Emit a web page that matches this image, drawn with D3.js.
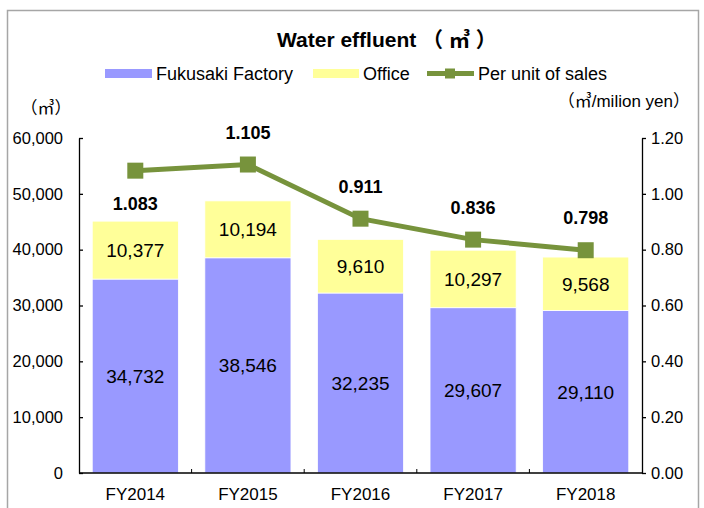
<!DOCTYPE html>
<html>
<head>
<meta charset="utf-8">
<script src="https://cdn.jsdelivr.net/npm/d3@7"></script>
<style>
  body { margin: 0; background: #fff; }
  svg text { font-family: "Liberation Sans", Arial, "Noto Sans CJK JP", sans-serif; }
</style>
</head>
<body>
<svg id="chart" width="704" height="508"></svg>
<script>
const years = ["FY2014", "FY2015", "FY2016", "FY2017", "FY2018"];
const factory = [34732, 38546, 32235, 29607, 29110];
const office = [10377, 10194, 9610, 10297, 9568];
const perUnit = [1.083, 1.105, 0.911, 0.836, 0.798];
const leftTicks = [0, 10000, 20000, 30000, 40000, 50000, 60000];
const rightTicks = [0, 0.2, 0.4, 0.6, 0.8, 1.0, 1.2];

const BLUE = "#9999ff";
const YELLOW = "#ffff99";
const GREEN = "#77933c";

const svg = d3.select("#chart");

// frame
svg.append("rect")
  .attr("x", 7.5).attr("y", 10.5)
  .attr("width", 691).attr("height", 510)
  .attr("fill", "none").attr("stroke", "#a6a6a6").attr("stroke-width", 1.5);

const plotL = 79, plotR = 642, plotT = 138, plotB = 473;

const x = d3.scaleBand().domain(years).range([plotL, plotR])
  .paddingInner(0.235).paddingOuter(0.1175);
const y = d3.scaleLinear().domain([0, 60000]).range([plotB, plotT]);
const y2 = d3.scaleLinear().domain([0, 1.2]).range([plotB, plotT]);

// title
svg.append("text")
  .attr("x", 277).attr("y", 47)
  .attr("font-size", 21).attr("font-weight", "bold")
  .text("Water effluent （ ㎥ ）");

// legend
const lg = svg.append("g").attr("font-size", 18);
lg.append("rect").attr("x", 105).attr("y", 69).attr("width", 47).attr("height", 9).attr("fill", BLUE);
lg.append("text").attr("x", 156).attr("y", 80).text("Fukusaki Factory");
lg.append("rect").attr("x", 313).attr("y", 69).attr("width", 46).attr("height", 9).attr("fill", YELLOW);
lg.append("text").attr("x", 363).attr("y", 80).text("Office");
lg.append("line").attr("x1", 427).attr("x2", 474).attr("y1", 73.5).attr("y2", 73.5)
  .attr("stroke", GREEN).attr("stroke-width", 5);
lg.append("rect").attr("x", 445).attr("y", 68.5).attr("width", 10).attr("height", 10).attr("fill", GREEN);
lg.append("text").attr("x", 478).attr("y", 80).text("Per unit of sales");

// unit labels
svg.append("text").attr("x", 46).attr("y", 114).attr("text-anchor", "middle")
  .attr("font-size", 17).text("（㎥）");
svg.append("text").attr("x", 690).attr("y", 107).attr("text-anchor", "end")
  .attr("font-size", 17).text("（㎥/milion yen）");

// bars
const stacks = years.map((yr, i) => ({ yr, f: factory[i], o: office[i] }));

svg.selectAll(".bar-f").data(stacks).join("rect")
  .attr("class", "bar-f")
  .attr("x", d => x(d.yr)).attr("width", x.bandwidth())
  .attr("y", d => y(d.f)).attr("height", d => y(0) - y(d.f))
  .attr("fill", BLUE).attr("stroke", "#fff").attr("stroke-width", 0.8);

svg.selectAll(".bar-o").data(stacks).join("rect")
  .attr("class", "bar-o")
  .attr("x", d => x(d.yr)).attr("width", x.bandwidth())
  .attr("y", d => y(d.f + d.o)).attr("height", d => y(d.f) - y(d.f + d.o))
  .attr("fill", YELLOW).attr("stroke", "#fff").attr("stroke-width", 0.8);

const fmt = d3.format(",");
svg.selectAll(".lab-f").data(stacks).join("text")
  .attr("class", "lab-f")
  .attr("x", d => x(d.yr) + x.bandwidth() / 2)
  .attr("y", d => y(d.f / 2) + 7)
  .attr("text-anchor", "middle").attr("font-size", 19)
  .text(d => fmt(d.f));

svg.selectAll(".lab-o").data(stacks).join("text")
  .attr("class", "lab-o")
  .attr("x", d => x(d.yr) + x.bandwidth() / 2)
  .attr("y", d => y(d.f + d.o / 2) + 7)
  .attr("text-anchor", "middle").attr("font-size", 19)
  .text(d => fmt(d.o));

// axes
const axL = svg.append("g").attr("transform", `translate(${plotL},0)`)
  .call(d3.axisLeft(y).tickValues(leftTicks).tickFormat(d3.format(","))
    .tickSizeInner(-4).tickSizeOuter(0).tickPadding(16));
const axR = svg.append("g").attr("transform", `translate(${plotR},0)`)
  .call(d3.axisRight(y2).tickValues(rightTicks).tickFormat(d3.format(".2f"))
    .tickSizeInner(4).tickSizeOuter(0).tickPadding(5));
[axL, axR].forEach(g => {
  g.selectAll("text").attr("font-size", 16.5).attr("fill", "#000");
  g.selectAll("line, path").attr("stroke", "#000").attr("stroke-width", 1.3);
  g.select(".domain").attr("fill", "none");
});

// x axis
const axB = svg.append("g");
axB.append("line").attr("x1", plotL).attr("x2", plotR).attr("y1", plotB).attr("y2", plotB)
  .attr("stroke", "#000").attr("stroke-width", 1.3);
axB.selectAll(".xt").data(years.slice(1)).join("line")
  .attr("class", "xt")
  .attr("x1", d => x(d) - x.step() * x.paddingInner() / 2)
  .attr("x2", d => x(d) - x.step() * x.paddingInner() / 2)
  .attr("y1", plotB).attr("y2", plotB - 4)
  .attr("stroke", "#000").attr("stroke-width", 1);
axB.selectAll(".xl").data(years).join("text")
  .attr("class", "xl")
  .attr("x", d => x(d) + x.bandwidth() / 2).attr("y", plotB + 27)
  .attr("text-anchor", "middle").attr("font-size", 17)
  .text(d => d);

// line
const pts = years.map((yr, i) => ({ yr, v: perUnit[i] }));
const cx = d => x(d.yr) + x.bandwidth() / 2;
svg.append("path").datum(pts)
  .attr("d", d3.line().x(cx).y(d => y2(d.v)))
  .attr("fill", "none").attr("stroke", GREEN).attr("stroke-width", 5);
svg.selectAll(".mk").data(pts).join("rect")
  .attr("class", "mk")
  .attr("x", d => cx(d) - 8).attr("y", d => y2(d.v) - 8)
  .attr("width", 16).attr("height", 16).attr("fill", GREEN);
svg.selectAll(".lab-l").data(pts).join("text")
  .attr("class", "lab-l")
  .attr("x", cx)
  .attr("y", (d, i) => y2(d.v) + (i === 0 ? 39.5 : -26))
  .attr("text-anchor", "middle").attr("font-size", 18).attr("font-weight", "bold")
  .text(d => d3.format(".3f")(d.v));
</script>
</body>
</html>
